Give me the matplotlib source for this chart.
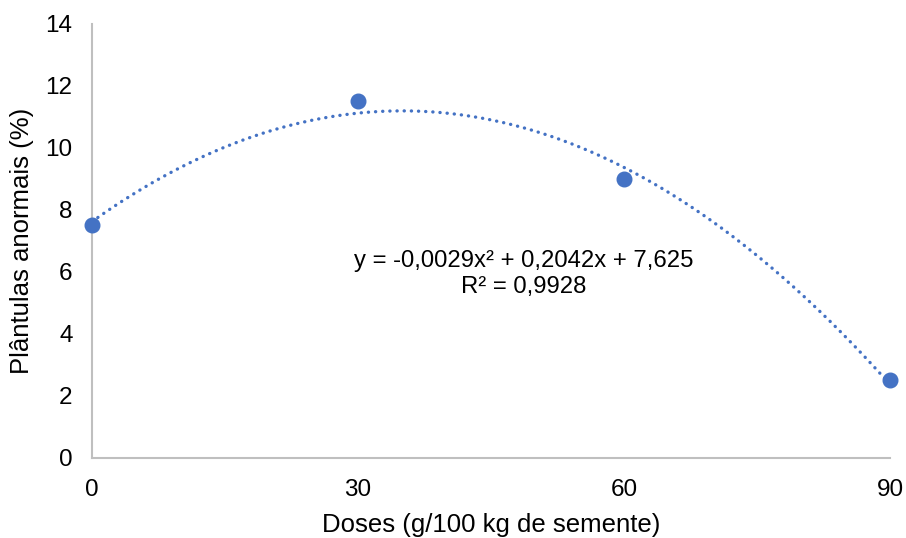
import numpy as np
import matplotlib
matplotlib.use("Agg")
import matplotlib.pyplot as plt

plt.rcParams['font.family'] = ['Liberation Sans', 'DejaVu Sans']

# dados
doses = [0, 30, 60, 90]
anormais = [7.5, 11.5, 9.0, 2.5]
xticks = [0, 30, 60, 90]
yticks = [0, 2, 4, 6, 8, 10, 12, 14]

cor = '#4472C4'

fig = plt.figure(figsize=(9.06, 5.38), dpi=100)
ax = fig.add_axes([0.1015, 0.1487, 0.8808, 0.8067])

# linha de tendencia polinomial (ordem 2)
coef = np.polyfit(doses, anormais, 2)
xs = np.linspace(0, 90, 400)
ax.plot(xs, np.polyval(coef, xs), color=cor, lw=2.4, linestyle=(0, (0.05, 2.1)),
        dash_capstyle='round', zorder=2)
ax.plot(doses, anormais, 'o', color=cor, markersize=10.5, zorder=3, clip_on=False)

ax.set_xlim(0, 90)
ax.set_ylim(0, 14)
ax.set_xticks(xticks)
ax.set_yticks(yticks)
ax.tick_params(length=0, labelsize=17.5, colors='black')
ax.tick_params(axis='y', pad=14)
ax.tick_params(axis='x', pad=15)

for s in ['top', 'right']:
    ax.spines[s].set_visible(False)
for s in ['left', 'bottom']:
    ax.spines[s].set_color('#BFBFBF')
    ax.spines[s].set_linewidth(1.5)

ax.set_xlabel('Doses (g/100 kg de semente)', fontsize=18.5, labelpad=9)
ax.set_ylabel('Plântulas anormais (%)', fontsize=18.5, labelpad=8)

# equacao da tendencia
ax.text((524 - 92) / 798, (458 - 274) / 434,
        'y = -0,0029x² + 0,2042x + 7,625\nR² = 0,9928',
        transform=ax.transAxes, ha='center', va='center', fontsize=17.2,
        linespacing=1.2)

fig.savefig('out.png', dpi=100)
